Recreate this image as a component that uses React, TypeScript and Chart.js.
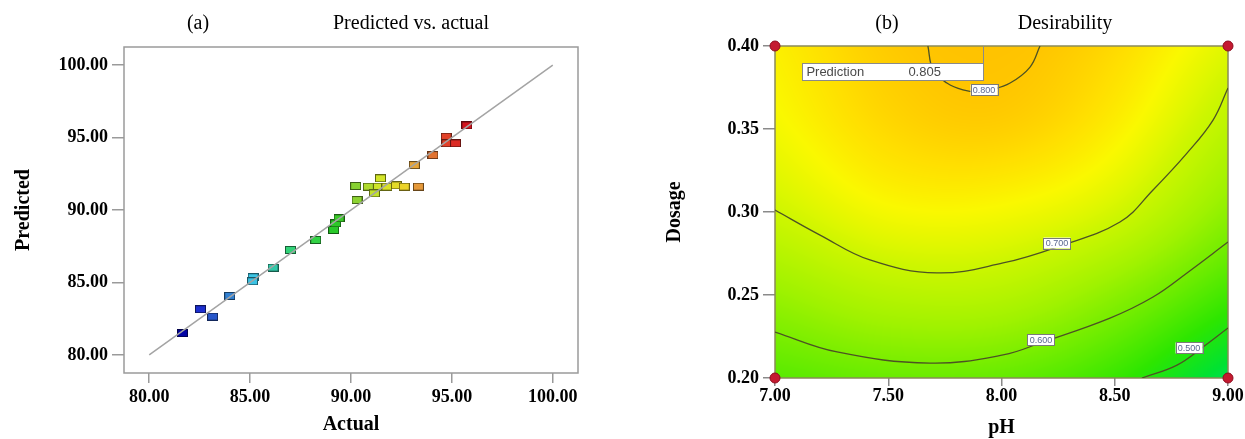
import React, { useEffect, useRef } from 'react';
import { Chart, registerables } from 'chart.js';

Chart.register(...registerables);

// ---------------- Panel (a): Predicted vs. actual ----------------
const actualValues = [
  81.65, 82.54, 83.14, 83.99, 85.15, 85.12, 86.14, 87.0, 88.25, 89.14, 89.24, 89.41, 90.3, 90.23,
  90.86, 91.36, 91.46, 91.16, 91.78, 92.25, 92.64, 93.34, 93.14, 94.06, 94.72, 94.75, 95.18, 95.74,
];
const predictedValues = [
  81.5, 83.15, 82.64, 84.07, 85.36, 85.08, 86.02, 87.24, 87.93, 88.62, 89.08, 89.43, 90.69, 91.66,
  91.61, 91.61, 92.19, 91.15, 91.61, 91.7, 91.61, 91.61, 93.1, 93.79, 95.06, 94.6, 94.6, 95.84,
];
const axisTicksA = [80, 85, 90, 95, 100];
const fitLineA = [80, 100];

// ---------------- Panel (b): Desirability ----------------
const phTicks = [7, 7.5, 8, 8.5, 9];
const dosageTicks = [0.2, 0.25, 0.3, 0.35, 0.4];
const gridPH = [7, 7.5, 8, 8.5, 9];
const gridDosage = [0.2, 0.25, 0.3, 0.35, 0.4];
const desirabilityAt020 = [0.562, 0.58, 0.575, 0.53, 0.44];
const desirabilityAt025 = [0.632, 0.668, 0.668, 0.617, 0.54];
const desirabilityAt030 = [0.7, 0.74, 0.74, 0.705, 0.62];
const desirabilityAt035 = [0.738, 0.78, 0.79, 0.755, 0.675];
const desirabilityAt040 = [0.755, 0.795, 0.806, 0.78, 0.72];

const contour800PH = [7.675, 7.698, 7.759, 7.83, 7.892, 7.949, 8.038, 8.126, 8.17];
const contour800Dosage = [0.4, 0.3855, 0.3777, 0.3735, 0.3723, 0.3735, 0.3777, 0.3873, 0.4];
const contour700PH = [7.0, 7.199, 7.419, 7.715, 8.007, 8.245, 8.523, 8.669, 8.819, 8.934, 9.0];
const contour700Dosage = [0.3012, 0.2861, 0.2711, 0.2633, 0.2693, 0.2789, 0.294, 0.3133, 0.3355, 0.3554, 0.3747];
const contour600PH = [7.0, 7.274, 7.684, 8.007, 8.183, 8.479, 8.669, 8.819, 9.0];
const contour600Dosage = [0.2277, 0.2157, 0.209, 0.2139, 0.2217, 0.2361, 0.2488, 0.2633, 0.2819];
const contour500PH = [8.62, 8.775, 8.89, 9.0];
const contour500Dosage = [0.2, 0.2078, 0.2187, 0.2301];

const contourLevels = ['0.800', '0.700', '0.600', '0.500'];
const contourLabelPH = [7.923, 8.245, 8.174, 8.828];
const contourLabelDosage = [0.3735, 0.2813, 0.2229, 0.2181];

const predictionPH = 7.92;
const predictionDosage = 0.4;
const predictionValue = 0.805;

const cornerPH = [7, 7, 9, 9];
const cornerDosage = [0.2, 0.4, 0.2, 0.4];

// ---------------- styles ----------------
const SERIF = '"Liberation Serif", "Times New Roman", serif';
const NARROW = '"Liberation Sans Narrow", "Liberation Sans", Arial, sans-serif';
const tickFont = { family: SERIF, size: 18, weight: 'bold' as const, lineHeight: 1.2 };
const axisTitleFont = { family: SERIF, size: 20, weight: 'bold' as const, lineHeight: 1.1 };

type RGB = [number, number, number];
const markerStops: [number, RGB][] = [
  [81.6, [0, 0, 160]],
  [82.6, [30, 50, 210]],
  [83.2, [40, 90, 200]],
  [84.0, [50, 130, 210]],
  [85.2, [60, 200, 230]],
  [86.1, [50, 200, 170]],
  [87.0, [50, 210, 120]],
  [88.2, [50, 210, 70]],
  [89.2, [40, 200, 40]],
  [90.3, [140, 210, 50]],
  [91.4, [210, 230, 40]],
  [92.6, [235, 215, 40]],
  [93.2, [230, 160, 60]],
  [94.0, [225, 120, 50]],
  [94.8, [225, 60, 40]],
  [95.7, [210, 20, 30]],
];
const heatStops: [number, RGB][] = [
  [0.4, [0, 222, 130]],
  [0.46, [0, 226, 50]],
  [0.52, [45, 230, 0]],
  [0.58, [105, 236, 0]],
  [0.64, [160, 242, 0]],
  [0.7, [205, 246, 0]],
  [0.745, [250, 248, 0]],
  [0.775, [255, 222, 0]],
  [0.8, [255, 198, 0]],
  [0.83, [255, 180, 0]],
];

function lerpStops(stops: [number, RGB][], v: number): RGB {
  if (v <= stops[0][0]) return stops[0][1];
  for (let i = 1; i < stops.length; i++) {
    if (v <= stops[i][0]) {
      const [v0, c0] = stops[i - 1];
      const [v1, c1] = stops[i];
      const t = (v - v0) / (v1 - v0);
      return [0, 1, 2].map((k) => c0[k] + (c1[k] - c0[k]) * t) as RGB;
    }
  }
  return stops[stops.length - 1][1];
}

function makeMarker(v: number): HTMLCanvasElement {
  const [r, g, b] = lerpStops(markerStops, v);
  const c = document.createElement('canvas');
  c.width = 11;
  c.height = 8;
  const ctx = c.getContext('2d')!;
  ctx.fillStyle = `rgb(${r},${g},${b})`;
  ctx.fillRect(0.5, 0.5, 10, 7);
  ctx.strokeStyle = `rgb(${Math.round(r * 0.45)},${Math.round(g * 0.45)},${Math.round(b * 0.45)})`;
  ctx.lineWidth = 1;
  ctx.strokeRect(0.5, 0.5, 10, 7);
  return c;
}

// bicubic sampling of the desirability grid
const desirabilityRows = [desirabilityAt020, desirabilityAt025, desirabilityAt030, desirabilityAt035, desirabilityAt040];
function gridValue(i: number, j: number): number {
  const nx = gridPH.length;
  const ny = gridDosage.length;
  if (i < 0) return 2 * gridValue(0, j) - gridValue(1, j);
  if (i >= nx) return 2 * gridValue(nx - 1, j) - gridValue(nx - 2, j);
  if (j < 0) return 2 * gridValue(i, 0) - gridValue(i, 1);
  if (j >= ny) return 2 * gridValue(i, ny - 1) - gridValue(i, ny - 2);
  return desirabilityRows[j][i];
}
function cr(p0: number, p1: number, p2: number, p3: number, t: number) {
  return 0.5 * (2 * p1 + (-p0 + p2) * t + (2 * p0 - 5 * p1 + 4 * p2 - p3) * t * t + (-p0 + 3 * p1 - 3 * p2 + p3) * t * t * t);
}
function sampleDesirability(ph: number, dos: number): number {
  const fx = (ph - gridPH[0]) / (gridPH[1] - gridPH[0]);
  const fy = (dos - gridDosage[0]) / (gridDosage[1] - gridDosage[0]);
  const ix = Math.min(Math.max(Math.floor(fx), 0), gridPH.length - 2);
  const iy = Math.min(Math.max(Math.floor(fy), 0), gridDosage.length - 2);
  const tx = fx - ix;
  const ty = fy - iy;
  const rows: number[] = [];
  for (let m = -1; m <= 2; m++) {
    rows.push(cr(gridValue(ix - 1, iy + m), gridValue(ix, iy + m), gridValue(ix + 1, iy + m), gridValue(ix + 2, iy + m), tx));
  }
  return cr(rows[0], rows[1], rows[2], rows[3], ty);
}

function headerPlugin(items: { text: string; x: number }[]) {
  return {
    id: 'header',
    afterDraw(chart: any) {
      const ctx = chart.ctx;
      ctx.save();
      ctx.font = `20px ${SERIF}`;
      ctx.fillStyle = '#000';
      ctx.textAlign = 'center';
      ctx.textBaseline = 'middle';
      items.forEach((it) => ctx.fillText(it.text, it.x, 24));
      ctx.restore();
    },
  };
}

function tickFormatter(v: any) {
  return Number(v).toFixed(2);
}

function configA(): any {
  const points = actualValues.map((a, i) => ({ x: a, y: predictedValues[i] }));
  const markers = actualValues.map((a) => makeMarker(a));
  const framePlugin = {
    id: 'frameA',
    beforeDatasetsDraw(chart: any) {
      const { ctx, chartArea } = chart;
      ctx.save();
      ctx.strokeStyle = '#9a9a9a';
      ctx.lineWidth = 1.5;
      ctx.strokeRect(chartArea.left, chartArea.top, chartArea.right - chartArea.left, chartArea.bottom - chartArea.top);
      ctx.restore();
    },
  };
  return {
    type: 'scatter',
    data: {
      datasets: [
        {
          data: fitLineA.map((v) => ({ x: v, y: v })),
          showLine: true,
          borderColor: '#a4a4a4',
          borderWidth: 1.5,
          pointRadius: 0,
        },
        {
          data: points,
          pointStyle: markers,
          pointRadius: 5,
        },
      ],
    },
    options: {
      responsive: false,
      animation: false,
      events: [],
      plugins: { legend: { display: false }, tooltip: { enabled: false } },
      layout: { padding: { top: 47, right: 42, left: 0, bottom: 0 } },
      scales: {
        x: {
          type: 'linear',
          min: 78.75,
          max: 101.25,
          afterFit: (s: any) => {
            s.height = 66;
          },
          afterBuildTicks: (s: any) => {
            s.ticks = axisTicksA.map((v) => ({ value: v }));
          },
          ticks: { callback: tickFormatter, font: tickFont, color: '#000', padding: 4, autoSkip: false, maxRotation: 0, minRotation: 0 },
          grid: { drawOnChartArea: false, drawTicks: true, tickLength: 10, color: '#9a9a9a', lineWidth: 1.5 },
          border: { display: false },
          title: { display: true, text: 'Actual', font: axisTitleFont, color: '#000', padding: { top: 0, bottom: 3 } },
        },
        y: {
          type: 'linear',
          min: 78.75,
          max: 101.25,
          afterFit: (s: any) => {
            s.width = 124;
          },
          afterBuildTicks: (s: any) => {
            s.ticks = axisTicksA.map((v) => ({ value: v }));
          },
          ticks: { callback: tickFormatter, font: tickFont, color: '#000', padding: 4, autoSkip: false },
          grid: { drawOnChartArea: false, drawTicks: true, tickLength: 12, color: '#9a9a9a', lineWidth: 1.5 },
          border: { display: false },
          title: { display: true, text: 'Predicted', font: axisTitleFont, color: '#000', padding: { top: 13, bottom: 0 } },
        },
      },
    },
    plugins: [
      framePlugin,
      headerPlugin([
        { text: '(a)', x: 198 },
        { text: 'Predicted vs. actual', x: 411 },
      ]),
    ],
  };
}

function configB(): any {
  const contourPH = [contour800PH, contour700PH, contour600PH, contour500PH];
  const contourDosage = [contour800Dosage, contour700Dosage, contour600Dosage, contour500Dosage];
  const contourSets = contourPH.map((phs, k) => ({
    data: phs.map((p, i) => ({ x: p, y: contourDosage[k][i] })),
    showLine: true,
    borderColor: '#4d5224',
    borderWidth: 1.3,
    pointRadius: 0,
    tension: 0.4,
  }));

  const heatPlugin = {
    id: 'heat',
    beforeDatasetsDraw(chart: any) {
      const { ctx, chartArea, scales } = chart;
      const left = Math.round(chartArea.left);
      const top = Math.round(chartArea.top);
      const w = Math.round(chartArea.right) - left;
      const h = Math.round(chartArea.bottom) - top;
      const img = ctx.createImageData(w, h);
      for (let j = 0; j < h; j++) {
        const dos = scales.y.getValueForPixel(top + j + 0.5);
        for (let i = 0; i < w; i++) {
          const ph = scales.x.getValueForPixel(left + i + 0.5);
          const [r, g, b] = lerpStops(heatStops, sampleDesirability(ph, dos));
          const o = (j * w + i) * 4;
          img.data[o] = r;
          img.data[o + 1] = g;
          img.data[o + 2] = b;
          img.data[o + 3] = 255;
        }
      }
      ctx.putImageData(img, left, top);
      ctx.save();
      ctx.strokeStyle = '#8a8a5a';
      ctx.lineWidth = 1.5;
      ctx.strokeRect(chartArea.left, chartArea.top, chartArea.right - chartArea.left, chartArea.bottom - chartArea.top);
      ctx.restore();
    },
  };

  const labelPlugin = {
    id: 'contourLabels',
    afterDatasetsDraw(chart: any) {
      const { ctx, scales } = chart;
      ctx.save();
      ctx.font = `9px ${NARROW}`;
      ctx.textAlign = 'center';
      ctx.textBaseline = 'middle';
      contourLevels.forEach((lvl, k) => {
        const px = scales.x.getPixelForValue(contourLabelPH[k]);
        const py = scales.y.getPixelForValue(contourLabelDosage[k]);
        const bw = 27;
        const bh = 11;
        ctx.fillStyle = '#ffffff';
        ctx.fillRect(px - bw / 2, py - bh / 2, bw, bh);
        ctx.strokeStyle = '#7a7a7a';
        ctx.lineWidth = 1;
        ctx.strokeRect(Math.round(px - bw / 2) + 0.5, Math.round(py - bh / 2) + 0.5, bw, bh);
        ctx.fillStyle = '#5a6890';
        ctx.fillText(lvl, px, py + 0.5);
      });

      // prediction flag
      const fx = scales.x.getPixelForValue(predictionPH);
      const fy = scales.y.getPixelForValue(predictionDosage);
      const boxW = 181;
      const boxH = 17;
      const boxTop = fy + 17;
      ctx.strokeStyle = '#8a8a8a';
      ctx.lineWidth = 1;
      ctx.beginPath();
      ctx.moveTo(Math.round(fx) + 0.5, fy);
      ctx.lineTo(Math.round(fx) + 0.5, boxTop);
      ctx.stroke();
      ctx.fillStyle = '#ffffff';
      ctx.fillRect(fx - boxW, boxTop, boxW, boxH);
      ctx.strokeRect(Math.round(fx - boxW) + 0.5, Math.round(boxTop) + 0.5, boxW, boxH);
      ctx.font = `13px ${NARROW}`;
      ctx.fillStyle = '#4a4a4a';
      ctx.textAlign = 'left';
      ctx.fillText('Prediction', fx - boxW + 4, boxTop + boxH / 2 + 0.5);
      ctx.fillText(predictionValue.toFixed(3), fx - boxW + 106, boxTop + boxH / 2 + 0.5);
      ctx.restore();
    },
  };

  return {
    type: 'scatter',
    data: {
      datasets: [
        ...contourSets,
        {
          data: cornerPH.map((p, i) => ({ x: p, y: cornerDosage[i] })),
          pointRadius: 5,
          backgroundColor: '#c41a30',
          borderColor: '#8e0c1e',
          borderWidth: 1,
          clip: false,
        },
      ],
    },
    options: {
      responsive: false,
      animation: false,
      events: [],
      plugins: { legend: { display: false }, tooltip: { enabled: false } },
      layout: { padding: { top: 46, right: 17, left: 0, bottom: 0 } },
      scales: {
        x: {
          type: 'linear',
          min: 7,
          max: 9,
          afterFit: (s: any) => {
            s.height = 61;
          },
          afterBuildTicks: (s: any) => {
            s.ticks = phTicks.map((v) => ({ value: v }));
          },
          ticks: { callback: tickFormatter, font: tickFont, color: '#000', padding: 0, autoSkip: false, maxRotation: 0, minRotation: 0 },
          grid: { drawOnChartArea: false, drawTicks: true, tickLength: 8, color: '#8a8a8a', lineWidth: 1.5 },
          border: { display: false },
          title: { display: true, text: 'pH', font: axisTitleFont, color: '#000', padding: { top: 0, bottom: 0 } },
        },
        y: {
          type: 'linear',
          min: 0.2,
          max: 0.4,
          afterFit: (s: any) => {
            s.width = 155;
          },
          afterBuildTicks: (s: any) => {
            s.ticks = dosageTicks.map((v) => ({ value: v }));
          },
          ticks: { callback: tickFormatter, font: tickFont, color: '#000', padding: 4, autoSkip: false },
          grid: { drawOnChartArea: false, drawTicks: true, tickLength: 12, color: '#8a8a8a', lineWidth: 1.5 },
          border: { display: false },
          title: { display: true, text: 'Dosage', font: axisTitleFont, color: '#000', padding: { top: 44, bottom: 0 } },
        },
      },
    },
    plugins: [
      heatPlugin,
      labelPlugin,
      headerPlugin([
        { text: '(b)', x: 267 },
        { text: 'Desirability', x: 445 },
      ]),
    ],
  };
}

export default function App() {
  const refA = useRef<HTMLCanvasElement>(null);
  const refB = useRef<HTMLCanvasElement>(null);

  useEffect(() => {
    const a = new Chart(refA.current!, configA());
    const b = new Chart(refB.current!, configB());
    return () => {
      a.destroy();
      b.destroy();
    };
  }, []);

  return (
    <div style={{ position: 'absolute', left: 0, top: 0, width: 1245, height: 439, background: '#ffffff', overflow: 'hidden' }}>
      <canvas ref={refA} width={620} height={439} style={{ position: 'absolute', left: 0, top: 0, width: 620, height: 439 }} />
      <canvas ref={refB} width={625} height={439} style={{ position: 'absolute', left: 620, top: 0, width: 625, height: 439 }} />
    </div>
  );
}
